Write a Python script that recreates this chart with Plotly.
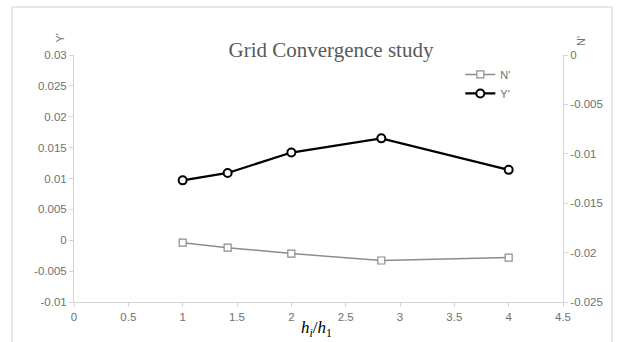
import plotly.graph_objects as go

x_ratio = [1, 1.414, 2, 2.828, 4]
y_prime = [0.0097, 0.0109, 0.0142, 0.0165, 0.0114]
n_prime = [-0.0190, -0.0195, -0.0201, -0.0208, -0.0205]

x_ticks = [0, 0.5, 1, 1.5, 2, 2.5, 3, 3.5, 4, 4.5]
x_ticktext = ["0", "0.5", "1", "1.5", "2", "2.5", "3", "3.5", "4", "4.5"]
y_ticks = [-0.01, -0.005, 0, 0.005, 0.01, 0.015, 0.02, 0.025, 0.03]
y_ticktext = ["-0.01", "-0.005", "0", "0.005", "0.01", "0.015", "0.02", "0.025", "0.03"]
y2_ticks = [-0.025, -0.02, -0.015, -0.01, -0.005, 0]
y2_ticktext = ["-0.025", "-0.02", "-0.015", "-0.01", "-0.005", "0"]

GRAY_TXT = "#707070"
AXIS = "#d4d4d4"
tickfont = dict(family="Liberation Sans", size=11.5, color=GRAY_TXT)

fig = go.Figure()
fig.add_trace(go.Scatter(
    x=x_ratio, y=n_prime, name="N'", yaxis="y2", mode="lines+markers",
    line=dict(color="#8c8c8c", width=1.5),
    marker=dict(symbol="square", size=7, color="white", line=dict(color="#8c8c8c", width=1.2)),
))
fig.add_trace(go.Scatter(
    x=x_ratio, y=y_prime, name="Y'", yaxis="y", mode="lines+markers",
    line=dict(color="black", width=2.2),
    marker=dict(symbol="circle", size=8, color="white", line=dict(color="black", width=2)),
))

fig.update_layout(
    width=618, height=342,
    margin=dict(l=74, r=55, t=55, b=40),
    paper_bgcolor="white", plot_bgcolor="white",
    showlegend=True,
    legend=dict(x=0.79, y=0.98, xanchor="left", yanchor="top",
                font=dict(family="Liberation Sans", size=11, color=GRAY_TXT),
                bgcolor="rgba(0,0,0,0)", tracegroupgap=0, itemwidth=30),
    title=dict(text="Grid Convergence study", x=331 / 618, xref="container", xanchor="center",
               y=1 - 50 / 342, yref="container", yanchor="middle",
               font=dict(family="Liberation Serif", size=21, color="#595959")),
    xaxis=dict(range=[0, 4.5], tickvals=x_ticks, ticktext=x_ticktext,
               showgrid=False, zeroline=False, showline=True, linecolor=AXIS, linewidth=1,
               ticks="outside", ticklen=4, tickcolor=AXIS, tickfont=tickfont),
    yaxis=dict(range=[-0.01, 0.03], tickvals=y_ticks, ticktext=y_ticktext,
               showgrid=False, zeroline=False, showline=True, linecolor=AXIS, linewidth=1,
               ticks="outside", ticklen=4, tickcolor=AXIS, tickfont=tickfont),
    yaxis2=dict(range=[-0.025, 0], tickvals=y2_ticks, ticktext=y2_ticktext, overlaying="y", side="right",
                showgrid=False, zeroline=False, showline=True, linecolor=AXIS, linewidth=1,
                ticks="outside", ticklen=4, tickcolor=AXIS, tickfont=tickfont),
)

fig.add_annotation(text="Y'", x=(52 - 74) / 489, y=(302 - 32) / 247, xref="paper", yref="paper",
                   showarrow=False, textangle=-90, font=dict(family="Liberation Sans", size=11, color=GRAY_TXT))
fig.add_annotation(text="N'", x=(589 - 74) / 489, y=(302 - 34) / 247, xref="paper", yref="paper",
                   showarrow=False, textangle=-90, font=dict(family="Liberation Sans", size=11, color=GRAY_TXT))
fig.add_annotation(text="<i>h</i><sub><i>i</i></sub>/<i>h</i><sub>1</sub>",
                   x=(316 - 74) / 489, y=(302 - 342) / 247, xref="paper", yref="paper",
                   yanchor="bottom", showarrow=False,
                   font=dict(family="Liberation Serif", size=17, color="black"))

fig.add_shape(type="rect", xref="paper", yref="paper",
              x0=(12 - 74) / 489, x1=(612 - 74) / 489, y0=(302 - 350) / 247, y1=(302 - 7) / 247,
              line=dict(color="#cfcfcf", width=1), layer="below")

fig.write_html("out.html", config={"displayModeBar": False},
               post_script="document.body.style.margin='0';document.body.style.overflow='hidden';")
